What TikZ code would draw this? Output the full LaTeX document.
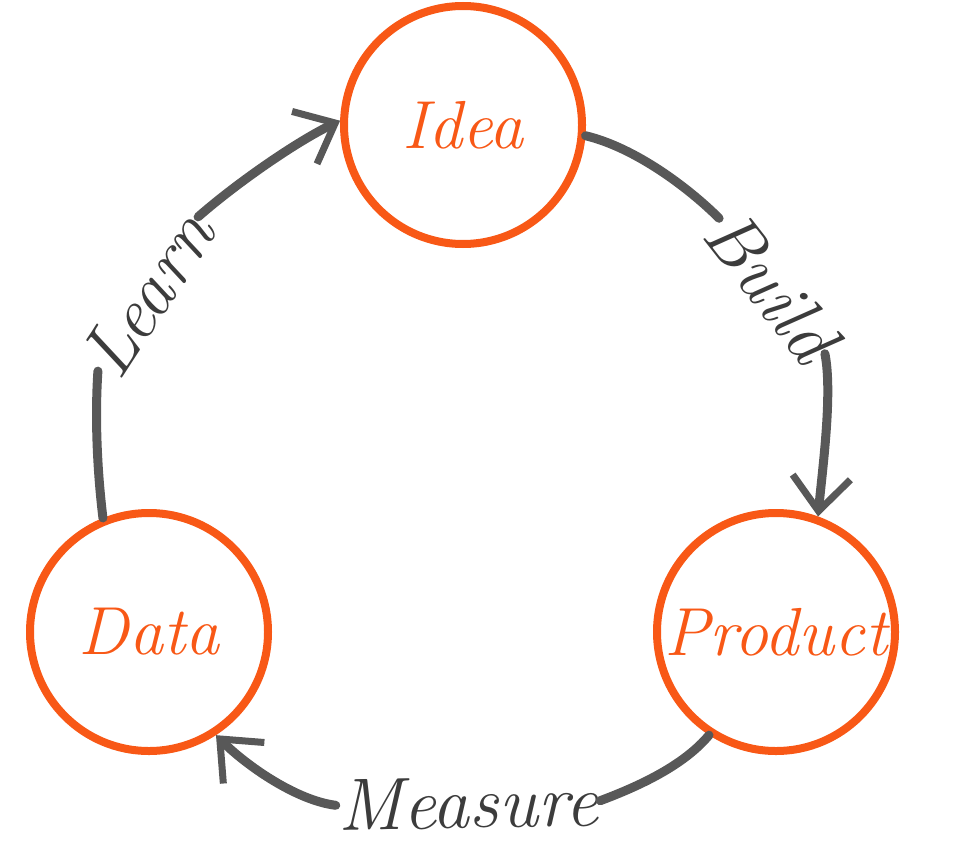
\documentclass[tikz,border=0pt]{standalone}
\usepackage{fontspec}
\usetikzlibrary{arrows.meta}
\definecolor{org}{RGB}{248,88,22}
\definecolor{gr}{RGB}{88,88,88}
\definecolor{tx}{RGB}{60,60,60}
\tikzset{
 circ/.style={circle,draw=org,line width=8pt,minimum size=238pt,inner sep=0pt,text=org,font=\fontsize{68}{68}\selectfont\itshape},
 arc/.style={draw=gr,line width=9pt,line cap=round},
 tip/.style={-{Straight Barb[length=34pt,width=58pt,line width=7pt]}},
 lab/.style={text=tx,font=\fontsize{74}{74}\selectfont\itshape,inner sep=2pt}
}
\begin{document}
\begin{tikzpicture}[x=1pt,y=-1pt]
\useasboundingbox (0,0) rectangle (960,848);
\node[circ] (idea) at (463,125) {Idea};
\node[circ] (data) at (149,632) {Data};
\node[circ] (product) at (776,632) {Product};
\node[lab,rotate=57] (learn) at (148,294) {Learn};
\node[lab,rotate=-52] (build) at (772,286) {Build};
\node[lab,rotate=1] (measure) at (468,803) {Measure};
\draw[arc] (data.112) .. controls +(-6,-50) and +(-3,45) .. (learn.west);
\draw[arc,tip] (learn.east) .. controls +(40,-35) and +(-42,20) .. (idea.178);
\draw[arc] (idea.-5) .. controls +(50,12) and +(-30,-30) .. (build.west);
\draw[arc,tip] (build.east) .. controls +(8,40) and +(4,-45) .. (product.70);
\draw[arc] (product.237) .. controls +(-25,30) and +(40,-15) .. (measure.east);
\draw[arc,tip] (measure.west) .. controls +(-40,-5) and +(30,30) .. (data.-57);
\end{tikzpicture}
\end{document}
